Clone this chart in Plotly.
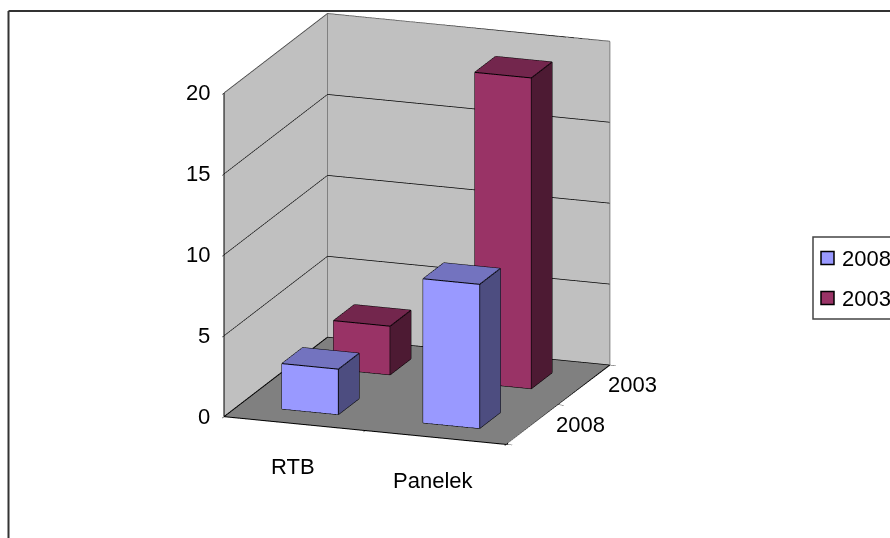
import plotly.graph_objects as go

# ---- data ----
categories = ["RTB", "Panelek"]
series_names = ["2008", "2003"]
values_2008 = [2.8, 8.9]
values_2003 = [3.0, 19.2]
z_ticks = [0, 5, 10, 15, 20]

series_values = {"2008": values_2008, "2003": values_2003}
front_colors = {"2008": "#9999FF", "2003": "#993366"}
top_colors = {"2008": "#7373BF", "2003": "#73264D"}
side_colors = {"2008": "#4D4D80", "2003": "#4D1A33"}

FONT = "Liberation Sans, Arial, sans-serif"
W, H = 890, 538
HALF = 0.2  # half width / half depth of a column (gap 150%)

x_rng = [-0.5, len(categories) - 0.5]
y_rng = [-0.5, len(series_names) - 0.5]
z_rng = [0, 20]

fig = go.Figure()

flat = dict(ambient=1, diffuse=0, specular=0, roughness=1, fresnel=0)
box_edges = [(0, 1), (1, 2), (2, 3), (3, 0), (4, 5), (5, 6), (6, 7), (7, 4),
             (0, 4), (1, 5), (2, 6), (3, 7)]

for s_idx, name in enumerate(series_names):
    fc, tc, sc = front_colors[name], top_colors[name], side_colors[name]
    for c_idx, v in enumerate(series_values[name]):
        x0, x1 = c_idx - HALF, c_idx + HALF
        y0, y1 = s_idx - HALF, s_idx + HALF
        xs = [x0, x1, x1, x0, x0, x1, x1, x0]
        ys = [y0, y0, y1, y1, y0, y0, y1, y1]
        zs = [0, 0, 0, 0, v, v, v, v]
        i = [0, 0, 1, 1, 4, 4, 3, 3, 0, 0, 0, 0]
        j = [1, 5, 2, 6, 5, 6, 7, 6, 4, 7, 3, 2]
        k = [5, 4, 6, 5, 6, 7, 6, 2, 7, 3, 2, 1]
        colors = [fc, fc, sc, sc, tc, tc, sc, sc, fc, fc, sc, sc]
        fig.add_trace(go.Mesh3d(
            x=xs, y=ys, z=zs, i=i, j=j, k=k, facecolor=colors,
            flatshading=True, lighting=flat, hoverinfo="skip",
            showlegend=False, showscale=False))
        ex, ey, ez = [], [], []
        for a, b in box_edges:
            ex += [xs[a], xs[b], None]
            ey += [ys[a], ys[b], None]
            ez += [zs[a], zs[b], None]
        fig.add_trace(go.Scatter3d(
            x=ex, y=ey, z=ez, mode="lines",
            line=dict(color="black", width=2),
            hoverinfo="skip", showlegend=False))

# wall outlines (gray) and axis lines (black)
xmin, xmax = x_rng
ymin, ymax = y_rng
zmin, zmax = z_rng
gray_segs = [
    ((xmin, ymin, zmax), (xmin, ymax, zmax)),
    ((xmin, ymax, zmax), (xmax, ymax, zmax)),
    ((xmax, ymax, zmin), (xmax, ymax, zmax)),
    ((xmin, ymax, zmin), (xmin, ymax, zmax)),
]
black_segs = [
    ((xmin, ymin, zmin), (xmax, ymin, zmin)),
    ((xmax, ymin, zmin), (xmax, ymax, zmin)),
    ((xmin, ymin, zmin), (xmin, ymin, zmax)),
    ((xmin, ymin, zmin), (xmin, ymax, zmin)),
]
for segs, col in ((gray_segs, "#808080"), (black_segs, "black")):
    lx, ly, lz = [], [], []
    for p, q in segs:
        lx += [p[0], q[0], None]
        ly += [p[1], q[1], None]
        lz += [p[2], q[2], None]
    fig.add_trace(go.Scatter3d(x=lx, y=ly, z=lz, mode="lines",
                               line=dict(color=col, width=2),
                               hoverinfo="skip", showlegend=False))

axis_common = dict(showspikes=False, zeroline=False, showline=False,
                   title=dict(text=""), showbackground=True,
                   showticklabels=False, ticks="outside", ticklen=6,
                   tickcolor="black")

label_font = dict(size=22, family=FONT, color="black")
scene_ann = []
for c_idx, cat in enumerate(categories):
    scene_ann.append(dict(x=c_idx, y=ymin, z=zmin, text=cat, showarrow=False,
                          xshift=-2, yshift=-43, font=label_font))
for s_idx, name in enumerate(series_names):
    scene_ann.append(dict(x=xmax, y=s_idx, z=zmin, text=name, showarrow=False,
                          xanchor="left", xshift=22, yshift=0, font=label_font))
for t in z_ticks:
    scene_ann.append(dict(x=xmin, y=ymin, z=t, text=str(t), showarrow=False,
                          xanchor="right", xshift=-12, font=label_font))

# legend: framed box with colour keys
LEG_L, LEG_T, LEG_B = 813, 237, 319
legend_rows = [258, 298]
shapes = [
    dict(type="line", xref="paper", yref="paper", x0=8.5 / W, x1=8.5 / W,
         y0=-0.05, y1=1 - 11 / H, line=dict(color="#333333", width=2)),
    dict(type="line", xref="paper", yref="paper", x0=8.5 / W, x1=1.05,
         y0=1 - 11 / H, y1=1 - 11 / H, line=dict(color="#333333", width=2)),
    dict(type="rect", xref="paper", yref="paper", x0=LEG_L / W, x1=1.05,
         y0=1 - LEG_B / H, y1=1 - LEG_T / H, line=dict(color="#444444", width=1.5),
         fillcolor="white"),
]
annotations = []
for name, yc in zip(series_names, legend_rows):
    shapes.append(dict(type="rect", xref="paper", yref="paper",
                       x0=821 / W, x1=834 / W, y0=1 - (yc + 6.5) / H, y1=1 - (yc - 6.5) / H,
                       fillcolor=front_colors[name], line=dict(color="black", width=1.5)))
    annotations.append(dict(xref="paper", yref="paper", x=840 / W, y=1 - yc / H,
                            xanchor="left", yanchor="middle", text=name,
                            showarrow=False, font=label_font))

fig.update_layout(
    width=W, height=H,
    margin=dict(l=0, r=0, t=0, b=0, autoexpand=False),
    paper_bgcolor="white", plot_bgcolor="white",
    font=dict(family=FONT, size=22, color="black"),
    showlegend=False,
    scene=dict(
        domain=dict(x=[0, 0.937], y=[0.149, 1]),
        aspectmode="manual",
        aspectratio=dict(x=1.31, y=1.34, z=1.47),
        camera=dict(eye=dict(x=0.324 * 1.9, y=-0.905 * 1.9, z=0.275 * 1.9),
                    center=dict(x=0, y=0, z=0),
                    up=dict(x=0, y=0, z=1),
                    projection=dict(type="orthographic")),
        xaxis=dict(range=x_rng, tickvals=[-0.5, 0.5, 1.5], showgrid=False,
                   backgroundcolor="#C0C0C0", **axis_common),
        yaxis=dict(range=y_rng, tickvals=[-0.5, 0.5, 1.5], showgrid=False,
                   backgroundcolor="#C0C0C0", **axis_common),
        zaxis=dict(range=z_rng, tickvals=z_ticks, showgrid=True,
                   gridcolor="black", gridwidth=1.5,
                   backgroundcolor="#808080", **axis_common),
        annotations=scene_ann,
    ),
    shapes=shapes,
    annotations=annotations,
)

fig.write_html("out.html")
